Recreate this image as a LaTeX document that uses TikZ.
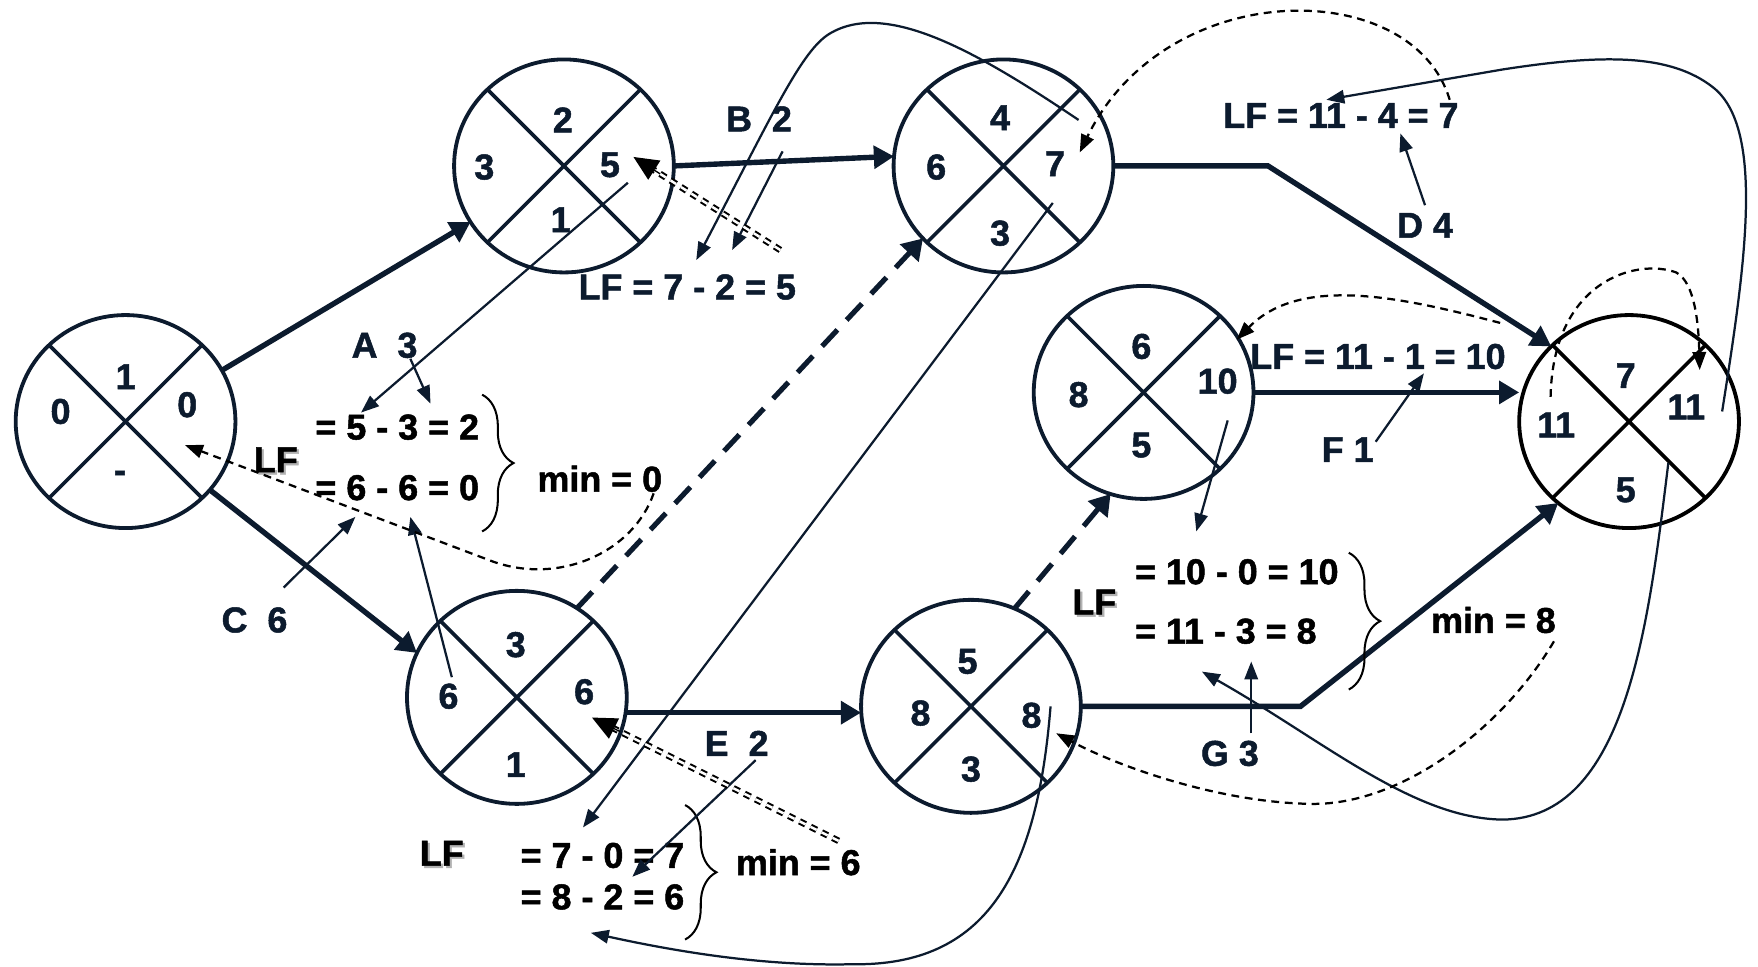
\documentclass[tikz,border=0pt]{standalone}
\usepackage{fontspec}
\setmainfont{Liberation Sans}[BoldFeatures={FakeBold=1.4}]
\usetikzlibrary{shapes.geometric,arrows.meta,decorations.pathreplacing,calc}
\definecolor{ink}{HTML}{0C1B2E}
\begin{document}
\begin{tikzpicture}[x=0.5pt,y=-0.5pt,
  font=\fontsize{16}{18}\selectfont\bfseries,
  ev/.style={ellipse, draw=ink, line width=1.7pt, minimum width=98pt, minimum height=95pt, inner sep=0pt, outer sep=0pt},
  xline/.style={draw=ink, line width=1.6pt},
  lbl/.style={text=ink, inner sep=0pt},
  eq/.style={text=black, inner sep=0pt, anchor=west},
  shad/.style={text=black!30, inner sep=0pt},
  act/.style={draw=ink, line width=2.4pt, -{Triangle[length=9pt,width=10pt]}},
  dum/.style={draw=ink, line width=2.3pt, dash pattern=on 10pt off 6pt, -{Triangle[length=9pt,width=11pt]}},
  ptr/.style={draw=ink, line width=1pt, -{Triangle[length=8pt,width=6pt]}},
  dptr/.style={draw=black, line width=1pt, dash pattern=on 3.5pt off 2.5pt, -{Triangle[length=8pt,width=6pt]}},
  dbl/.style={draw=black, line width=0.9pt, double=white, double distance=1.1pt, dash pattern=on 3pt off 2.5pt},
  dbltip/.style={draw=black, line width=0.6pt, -{Triangle[length=11pt,width=10pt]}},
  brc/.style={draw=black, line width=0.9pt, decorate, decoration={brace, amplitude=14pt}}
]
\useasboundingbox (0,0) rectangle (1568,862);

% ---------- events ----------
\node[ev] (n1) at (112,376) {};
\node[ev] (n2) at (503,148) {};
\node[ev] (n3) at (895,148) {};
\node[ev] (n4) at (461,622) {};
\node[ev] (n5) at (866,630) {};
\node[ev] (n6) at (1020,350) {};
\node[ev, draw=black] (n7) at (1453,376) {};
\foreach \n in {n1,n2,n3,n4,n5,n6}{
  \draw[xline] (\n.45) -- (\n.225) (\n.135) -- (\n.315);
}
\draw[xline, draw=black] (n7.45) -- (n7.225) (n7.135) -- (n7.315);

% labels inside events
\node[lbl] (n1t) at (112,336) {1};
\node[lbl] (n1l) at (54,367) {0};
\node[lbl] (n1r) at (167,361) {0};
\node[lbl] (n1b) at (107,425) {-};
\node[lbl] (n2t) at (502,107) {2};
\node[lbl] (n2l) at (432,149) {3};
\node[lbl] (n2r) at (544,147) {5};
\node[lbl] (n2b) at (500,196) {1};
\node[lbl] (n3t) at (892,105) {4};
\node[lbl] (n3l) at (835,149) {6};
\node[lbl] (n3r) at (941,146) {7};
\node[lbl] (n3b) at (892,208) {3};
\node[lbl] (n4t) at (460,575) {3};
\node[lbl] (n4l) at (400,621) {6};
\node[lbl] (n4r) at (521,617) {6};
\node[lbl] (n4b) at (460,682) {1};
\node[lbl] (n5t) at (863,590) {5};
\node[lbl] (n5l) at (821,636) {8};
\node[lbl] (n5r) at (920,638) {8};
\node[lbl] (n5b) at (866,686) {3};
\node[lbl] (n6t) at (1018,309) {6};
\node[lbl] (n6l) at (962,352) {8};
\node[lbl] (n6r) at (1086,340) {10};
\node[lbl] (n6b) at (1018,397) {5};
\node[lbl] (n7t) at (1450,335) {7};
\node[lbl] (n7l) at (1388,379) {11};
\node[lbl] (n7r) at (1504,363) {11};
\node[lbl] (n7b) at (1450,437) {5};

% ---------- activities ----------
\draw[act] (n1.28) -- (n2.211);
\draw[act] (n1.321) -- (n4.156);
\draw[act] (n2.east) -- (n3.175);
\draw[dum] (n4.56) -- (n3.222);
\coordinate (dbend) at (1131,148);
\draw[act] (n3.east) -- (dbend) -- (n7.136);
\draw[act] (n6.east) -- (n6.east -| n7.west);
\draw[act] (n4.352.5) -- (n4.352.5 -| n5.west);
\draw[dum] (n5.66) -- (n6.252);
\coordinate (gbend) at (1160,630);
\draw[act] (n5.east) -- (gbend) -- (n7.229);

% activity labels
\node[lbl] (tA) at (343,308) {A\ \ 3};
\node[lbl] (tC) at (227,553) {C\ \ 6};
\node[lbl] (tB) at (677,106) {B\ \ 2};
\node[lbl] (tD) at (1271,201) {D 4};
\node[lbl] (tF) at (1202,401) {F 1};
\node[lbl] (tE) at (657,663) {E\ \ 2};
\node[lbl] (tG) at (1097,672) {G 3};

% ---------- LF texts ----------
\node[lbl] (lf2) at (613,256) {LF = 7 - 2 = 5};
\node[lbl] (lf3) at (1196,103) {LF = 11 - 4 = 7};
\node[lbl] (lf6) at (1229,318) {LF = 11 - 1 = 10};

% group near event 1
\node[shad] (g1s) at (248,412) {LF};
\node[inner sep=0pt] (g1lf) at (246,410) {LF};
\node[eq] (g1a) at (281,381) {= 5 - 3 = 2};
\node[eq] (g1b) at (281,435) {= 6 - 6 = 0};
\coordinate (g1top) at (430,352);
\coordinate (g1bot) at (430,474);
\draw[brc] (g1top) -- (g1bot);
\node[inner sep=0pt] (g1min) at (535,427) {min = 0};

% group near event 4
\node[shad] (g2s) at (396,763) {LF};
\node[inner sep=0pt] (g2lf) at (394,761) {LF};
\node[eq] (g2a) at (464,763) {= 7 - 0 = 7};
\node[eq] (g2b) at (464,800) {= 8 - 2 = 6};
\coordinate (g2top) at (611,718);
\coordinate (g2bot) at (611,838);
\draw[brc] (g2top) -- (g2bot);
\node[inner sep=0pt] (g2min) at (712,769) {min = 6};

% group near event 5
\node[shad] (g3s) at (978,539) {LF};
\node[inner sep=0pt] (g3lf) at (976,537) {LF};
\node[eq] (g3a) at (1012,510) {= 10 - 0 = 10};
\node[eq] (g3b) at (1012,563) {= 11 - 3 = 8};
\coordinate (g3top) at (1203,493);
\coordinate (g3bot) at (1203,615);
\draw[brc] (g3top) -- (g3bot);
\node[inner sep=0pt] (g3min) at (1332,553) {min = 8};

% ---------- pointer connectors ----------
% around event 1 group
\coordinate (pa0) at (366,320); \coordinate (pa1) at (384,360);
\draw[ptr] (pa0) -- (pa1);
\coordinate (p20) at (560,163); \coordinate (p21) at (322,368);
\draw[ptr] (p20) -- (p21);
\coordinate (pc0) at (253,524); \coordinate (pc1) at (317,461);
\draw[ptr] (pc0) -- (pc1);
\coordinate (p40) at (403,604); \coordinate (p41) at (366,461);
\draw[ptr] (p40) -- (p41);
\coordinate (m00) at (583,440); \coordinate (m0m) at (440,501); \coordinate (m01) at (165,397);
\draw[dptr] (m00) .. controls (565,492) and (500,522) .. (m0m) -- (m01);

% around LF = 7 - 2 = 5
\coordinate (c30) at (962,107); \coordinate (c3m) at (740,30); \coordinate (c31) at (621,232);
\draw[ptr] (c30) .. controls (870,45) and (790,0) .. (c3m) .. controls (715,45) and (690,100) .. (c31);
\coordinate (pb0) at (698,135); \coordinate (pb1) at (653,223);
\draw[ptr] (pb0) -- (pb1);
\coordinate (db0) at (696,223); \coordinate (db1) at (565,140);
\draw[dbl, shorten >=9pt] (db0) -- (db1);
\draw[dbltip] ($(db1)!14pt!(db0)$) -- (db1);

% around event 4 group
\coordinate (h0) at (939,181); \coordinate (h1) at (520,738);
\draw[ptr] (h0) -- (h1);
\coordinate (pe0) at (674,678); \coordinate (pe1) at (564,782);
\draw[ptr] (pe0) -- (pe1);
\coordinate (dm0) at (748,750); \coordinate (dm1) at (528,640);
\draw[dbl, shorten >=9pt] (dm0) -- (dm1);
\draw[dbltip] ($(dm1)!14pt!(dm0)$) -- (dm1);
\coordinate (j0) at (937,630); \coordinate (jm) at (760,860); \coordinate (j1) at (527,832);
\draw[ptr] (j0) .. controls (925,780) and (880,862) .. (jm) .. controls (680,862) and (600,848) .. (j1);

% around LF = 11 - 4 = 7
\coordinate (k0) at (1293,89); \coordinate (k1) at (963,136);
\draw[dptr] (k0) .. controls (1260,-22) and (1040,-22) .. (k1);
\coordinate (l0) at (1536,367); \coordinate (lm) at (1528,78); \coordinate (ln) at (1340,62); \coordinate (l1) at (1183,89);
\draw[ptr] (l0) .. controls (1556,240) and (1575,115) .. (lm) .. controls (1490,48) and (1430,48) .. (ln) -- (l1);
\coordinate (pd0) at (1271,183); \coordinate (pd1) at (1249,119);
\draw[ptr] (pd0) -- (pd1);

% around events 6 and 7
\coordinate (q0) at (1383,354); \coordinate (qm) at (1495,243); \coordinate (q1) at (1516,330);
\draw[dptr] (q0) .. controls (1385,250) and (1460,230) .. (qm) .. controls (1512,252) and (1515,290) .. (q1);
\coordinate (r0) at (1338,288); \coordinate (r1) at (1103,303);
\draw[dptr] (r0) .. controls (1250,265) and (1160,245) .. (r1);
\coordinate (p60) at (1095,375); \coordinate (p61) at (1067,474);
\draw[ptr] (p60) -- (p61);
\coordinate (pf0) at (1227,394); \coordinate (pf1) at (1270,333);
\draw[ptr] (pf0) -- (pf1);

% around event 5 group
\coordinate (pg0) at (1116,654); \coordinate (pg1) at (1116,590);
\draw[ptr] (pg0) -- (pg1);
\coordinate (s0) at (1488,413); \coordinate (sm) at (1340,731); \coordinate (s1) at (1072,599);
\draw[ptr] (s0) .. controls (1470,560) and (1450,730) .. (sm) .. controls (1260,730) and (1180,660) .. (s1);
\coordinate (t0) at (1386,572); \coordinate (tm) at (1170,717); \coordinate (t1) at (942,654);
\draw[dptr] (t0) .. controls (1340,650) and (1250,718) .. (tm) .. controls (1090,716) and (1000,685) .. (t1);
\end{tikzpicture}
\end{document}
